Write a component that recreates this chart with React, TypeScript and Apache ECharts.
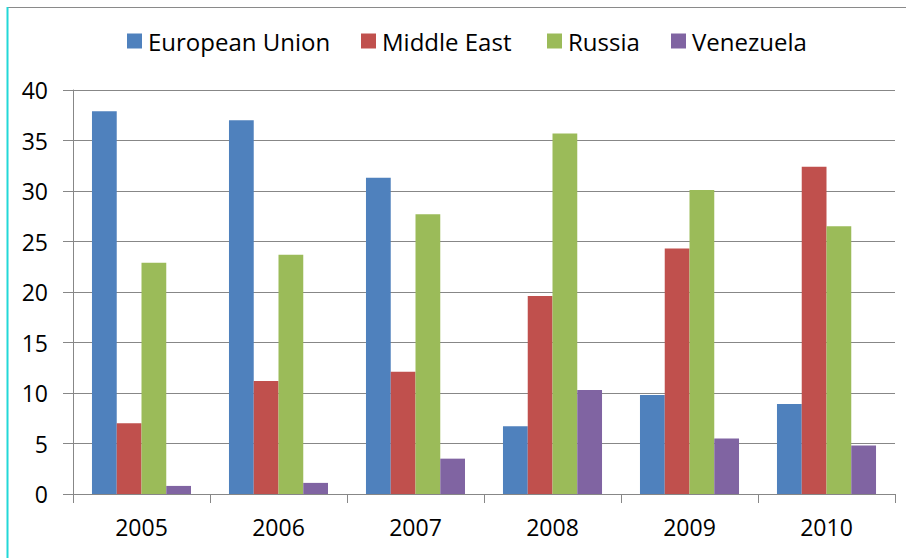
import React, { useEffect, useRef } from "react";
import * as echarts from "echarts";

const categories = ["2005", "2006", "2007", "2008", "2009", "2010"];
const seriesNames = ["European Union", "Middle East", "Russia", "Venezuela"];
const europeanUnion = [37.9, 37.0, 31.3, 6.7, 9.8, 8.9];
const middleEast = [7.0, 11.2, 12.1, 19.6, 24.3, 32.4];
const russia = [22.9, 23.7, 27.7, 35.7, 30.1, 26.5];
const venezuela = [0.8, 1.1, 3.5, 10.3, 5.5, 4.8];
const colors = ["#4F81BD", "#C0504D", "#9BBB59", "#8064A2"];
const legendLeft = [127, 361, 547, 671];

const FONT = "'Open Sans', Lato, sans-serif";

export default function App() {
  const ref = useRef<HTMLDivElement>(null);
  useEffect(() => {
    document.body.style.margin = "0";
    if (!ref.current) return;
    const chart = echarts.init(ref.current, undefined, { renderer: "svg" });
    const values = [europeanUnion, middleEast, russia, venezuela];
    chart.setOption({
      animation: false,
      backgroundColor: "#ffffff",
      textStyle: { fontFamily: FONT },
      legend: seriesNames.map((n, i) => ({
        data: [n],
        left: legendLeft[i],
        top: 29,
        padding: 0,
        itemWidth: 15,
        itemHeight: 15,
        itemGap: 0,
        icon: "rect",
        textStyle: { fontSize: 24, color: "#000", fontFamily: FONT, padding: [0, 0, 0, 1] },
      })),
      grid: { left: 73, right: 11, top: 90, bottom: 64, containLabel: false },
      xAxis: {
        type: "category",
        data: categories,
        axisLine: { show: true, lineStyle: { color: "#878787", width: 1 } },
        axisTick: { show: true, length: 9, alignWithLabel: false, lineStyle: { color: "#878787" } },
        axisLabel: { fontSize: 23, color: "#000", margin: 21, fontFamily: FONT },
      },
      yAxis: {
        type: "value",
        min: 0,
        max: 40,
        interval: 5,
        axisLine: { show: true, lineStyle: { color: "#878787", width: 1 } },
        axisTick: { show: true, length: 10, inside: false, lineStyle: { color: "#878787" } },
        axisLabel: { fontSize: 23, color: "#000", margin: 25, fontFamily: FONT },
        splitLine: { show: true, lineStyle: { color: "#878787", width: 1 } },
      },
      series: seriesNames.map((n, i) => ({
        name: n,
        type: "bar",
        data: values[i],
        barGap: "0%",
        barCategoryGap: "27.7%",
        itemStyle: { color: colors[i] },
      })),
      graphic: [
        {
          type: "line",
          shape: { x1: 7, y1: 7.5, x2: 906, y2: 7.5 },
          style: { stroke: "#8a8a8a", lineWidth: 1 },
        },
        {
          type: "line",
          shape: { x1: 7.5, y1: 7, x2: 7.5, y2: 558 },
          style: { stroke: "#22D8D8", lineWidth: 2 },
        },
      ],
    });
    return () => chart.dispose();
  }, []);
  return <div ref={ref} style={{ width: 906, height: 558 }} />;
}
